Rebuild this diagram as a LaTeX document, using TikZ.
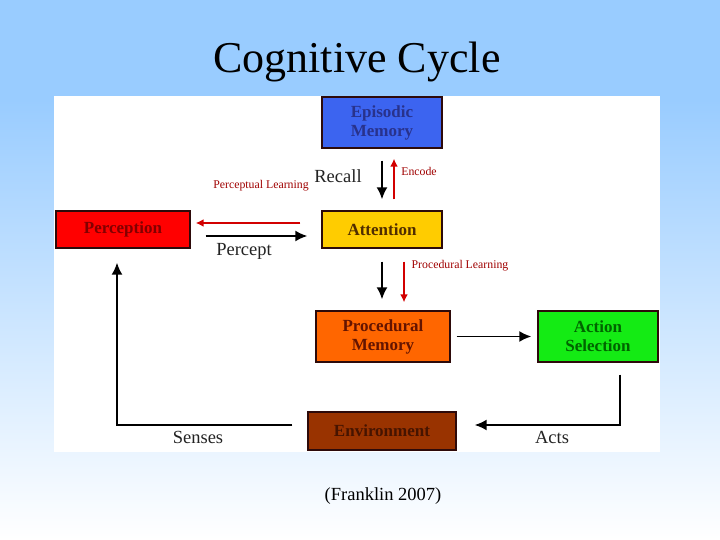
\documentclass[tikz,border=0pt]{standalone}
\usepackage{fontspec}
\setmainfont{Liberation Serif}
\usetikzlibrary{arrows.meta,calc}
\definecolor{bgtop}{RGB}{153,204,255}
\definecolor{epfill}{RGB}{60,100,240}
\definecolor{eptext}{RGB}{40,50,140}
\definecolor{atfill}{RGB}{255,204,0}
\definecolor{attext}{RGB}{80,45,0}
\definecolor{pefill}{RGB}{255,0,0}
\definecolor{petext}{RGB}{130,0,0}
\definecolor{pmfill}{RGB}{255,102,0}
\definecolor{pmtext}{RGB}{100,20,0}
\definecolor{asfill}{RGB}{20,235,20}
\definecolor{astext}{RGB}{0,100,0}
\definecolor{enfill}{RGB}{153,51,0}
\definecolor{entext}{RGB}{70,20,0}
\definecolor{bord}{RGB}{45,10,10}
\definecolor{lred}{RGB}{160,0,0}
\definecolor{ared}{RGB}{210,0,0}
\definecolor{lgray}{RGB}{35,35,35}
\begin{document}
\begin{tikzpicture}[x=1pt,y=-1pt,
  box/.style={draw=bord,line width=1.4pt,inner sep=0pt,align=center,
    font=\fontsize{17}{19}\selectfont\bfseries},
  blk/.style={draw=black,line width=1.7pt,-{Latex[length=12pt,width=11pt]}},
  redarr/.style={draw=ared,line width=2.3pt,-{Latex[length=8pt,width=8pt]}},
  lbl/.style={text=lgray,font=\fontsize{18.5}{20}\selectfont,inner sep=0pt},
  rlbl/.style={text=lred,font=\fontsize{11.8}{13}\selectfont,inner sep=0pt}]
\useasboundingbox (0,0) rectangle (720,540);
\fill[bgtop] (0,0) rectangle (720,100);
\shade[top color=bgtop,bottom color=white] (0,99.5) rectangle (720,540);
\fill[white] (54,96) rectangle (660,452);
\node[font=\fontsize{44}{48}\selectfont] (title) at (357,62) {Cognitive Cycle};
\node[font=\fontsize{18.5}{20}\selectfont] (cite) at (383,496) {(Franklin 2007)};
% boxes
\node[box,fill=epfill,text=eptext,minimum width=120pt,minimum height=51pt] (episodic) at (382,122.5) {Episodic\\Memory};
\node[box,fill=atfill,text=attext,minimum width=120pt,minimum height=37pt] (attention) at (382,229.5) {Attention};
\node[box,fill=pefill,text=petext,minimum width=134pt,minimum height=37pt] (perception) at (123,229.5) {Perception};
\node[box,fill=pmfill,text=pmtext,minimum width=134pt,minimum height=51pt] (procmem) at (383,336.5) {Procedural\\Memory};
\node[box,fill=asfill,text=astext,minimum width=120pt,minimum height=51pt] (actsel) at (598,336.5) {Action\\Selection};
\node[box,fill=enfill,text=entext,minimum width=148pt,minimum height=38pt] (environment) at (382,431) {Environment};
% connectors
\draw[blk] ([yshift=-12pt]episodic.south) -- ([yshift=11pt]attention.north);
\draw[redarr] ([xshift=12pt,yshift=11pt]attention.north) -- ([xshift=12pt,yshift=-10pt]episodic.south);
\draw[redarr] ([xshift=-21pt,yshift=6.5pt]attention.west) -- ([xshift=5pt,yshift=6.5pt]perception.east);
\draw[blk] ([xshift=15pt,yshift=-6.5pt]perception.east) -- ([xshift=-14pt,yshift=-6.5pt]attention.west);
\draw[blk] ([yshift=-13pt]attention.south) -- ([yshift=11pt]attention.south |- procmem.north);
\draw[redarr] ([xshift=22pt,yshift=-13pt]attention.south) -- ([xshift=22pt,yshift=8pt]attention.south |- procmem.north);
\draw[blk] ([xshift=6pt]procmem.east) -- ([xshift=-6pt]actsel.west);
\coordinate (ascorner) at (620,425);
\draw[blk] ([xshift=22pt,yshift=-12pt]actsel.south) -- (ascorner) -- ([xshift=18pt,yshift=6pt]environment.east);
\draw[blk] ([xshift=-15pt,yshift=6pt]environment.west) -| ([xshift=-6pt,yshift=-14pt]perception.south);
% labels
\node[lbl] (recall) at (338,176) {Recall};
\node[rlbl] (encode) at (419,171) {Encode};
\node[rlbl] (perclearn) at (261,186) {Perceptual Learning};
\node[lbl] (percept) at (244,251) {Percept};
\node[rlbl] (proclearn) at (460,266) {Procedural Learning};
\node[lbl] (senses) at (198,437) {Senses};
\node[lbl] (acts) at (552,437) {Acts};
\end{tikzpicture}
\end{document}
